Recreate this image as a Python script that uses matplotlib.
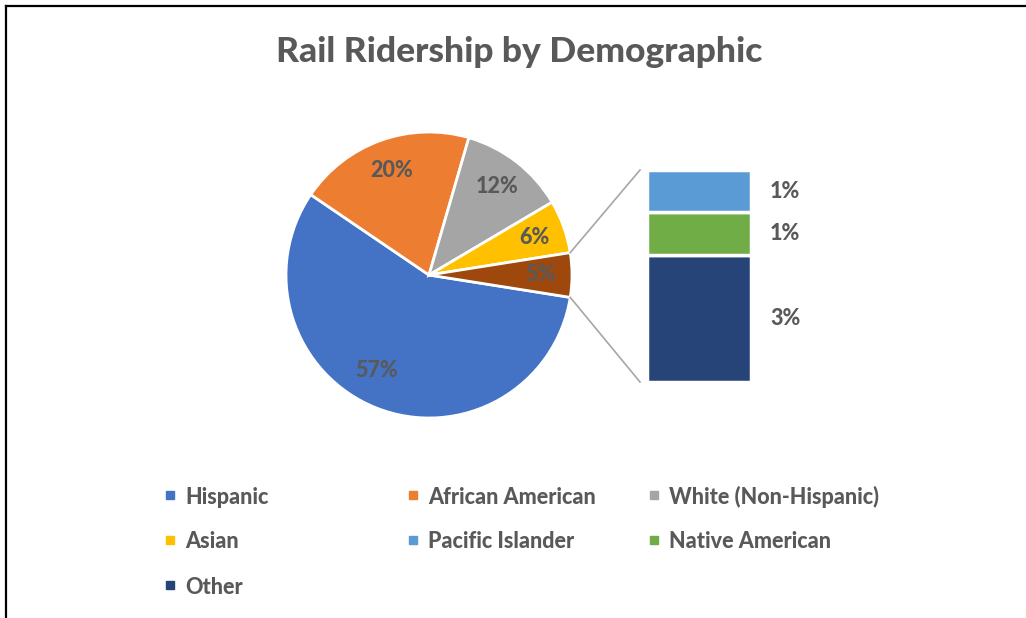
import numpy as np
import matplotlib
matplotlib.use('Agg')
import matplotlib.pyplot as plt
from matplotlib.lines import Line2D
from matplotlib.patches import Rectangle

# ── data ──────────────────────────────────────────────────────────────────────
pie_labels = ['Hispanic', 'African American', 'White (Non-Hispanic)', 'Asian', 'Other (combined)']
pie_values = [57, 20, 12, 6, 5]
pie_colors = ['#4472C4', '#ED7D31', '#A5A5A5', '#FFC000', '#9E480E']

bar_labels = ['Other', 'Native American', 'Pacific Islander']   # bottom -> top
bar_values = [3, 1, 1]
bar_colors = ['#264478', '#70AD47', '#5B9BD5']

legend_labels = ['Hispanic', 'African American', 'White (Non-Hispanic)',
                 'Asian', 'Pacific Islander', 'Native American', 'Other']
legend_colors = ['#4472C4', '#ED7D31', '#A5A5A5', '#FFC000', '#5B9BD5', '#70AD47', '#264478']

TXT = '#595959'
FONT = 'Lato'
WEIGHT = 'black'

W, H = 1026, 618
fig = plt.figure(figsize=(W / 100, H / 100), dpi=100)
ax = fig.add_axes([0, 0, 1, 1])

# ── pie ───────────────────────────────────────────────────────────────────────
cx, cy, r = 429, 343, 143
comp_share = pie_values[-1] / sum(pie_values) * 360
start = 360 - comp_share / 2
wedges, _, autotexts = ax.pie(
    pie_values, colors=pie_colors, startangle=start, counterclock=False,
    center=(cx, cy), radius=r, autopct='%d%%', pctdistance=0.78,
    wedgeprops=dict(edgecolor='white', linewidth=2),
    textprops=dict(color=TXT, fontsize=15.5, fontweight=WEIGHT, family=FONT),
    frame=True)
# Excel puts the big slice label a little further round
ang = np.deg2rad(241)
autotexts[0].set_position((cx + 0.76 * r * np.cos(ang), cy + 0.76 * r * np.sin(ang)))
ax.set_xlim(0, W)
ax.set_ylim(0, H)
ax.set_axis_off()

# ── bar of pie ────────────────────────────────────────────────────────────────
bar_x0, bar_w = 647, 104
bar_bottom, bar_top = 236, 448
unit = (bar_top - bar_bottom) / sum(bar_values)
bottoms = bar_bottom + unit * np.concatenate([[0], np.cumsum(bar_values)[:-1]])
bars = ax.bar(bar_x0 + bar_w / 2, np.array(bar_values) * unit, width=bar_w,
              bottom=bottoms, color=bar_colors, edgecolor='white', linewidth=2.5)
for b, v in zip(bottoms, bar_values):
    ax.text(785, b + v * unit / 2, f'{v}%', ha='center', va='center',
            color=TXT, fontsize=15.5, fontweight=WEIGHT, family=FONT)

# connector lines
a = np.deg2rad(comp_share / 2)
ax.plot([cx + r * np.cos(a), 640], [cy + r * np.sin(a), bar_top], color='#A6A6A6', lw=1.2)
ax.plot([cx + r * np.cos(-a), 640], [cy + r * np.sin(-a), bar_bottom], color='#A6A6A6', lw=1.2)

# ── title ─────────────────────────────────────────────────────────────────────
fig.text(519 / W, 1 - 52 / H, 'Rail Ridership by Demographic', ha='center', va='center',
         color=TXT, fontsize=25.5, fontweight=WEIGHT, family=FONT)

# ── legend (row-major, 3 columns) ─────────────────────────────────────────────
col_x = [170, 413, 654]
row_y = [497, 542, 587]
for i, (lab, col) in enumerate(zip(legend_labels, legend_colors)):
    x = col_x[i % 3]
    y = H - row_y[i // 3]
    ax.add_patch(Rectangle((x - 4, y - 2), 8, 8, color=col))
    ax.text(x + 15, y, lab, ha='left', va='center', color=TXT,
            fontsize=15.5, fontweight=WEIGHT, family=FONT)

# ── frame lines (top, left) ───────────────────────────────────────────────────
fig.add_artist(Line2D([6 / W, 1], [1 - 6 / H, 1 - 6 / H], color='black', lw=1.6))
fig.add_artist(Line2D([6 / W, 6 / W], [0, 1 - 6 / H], color='black', lw=1.6))

fig.savefig('out.png', dpi=100)
